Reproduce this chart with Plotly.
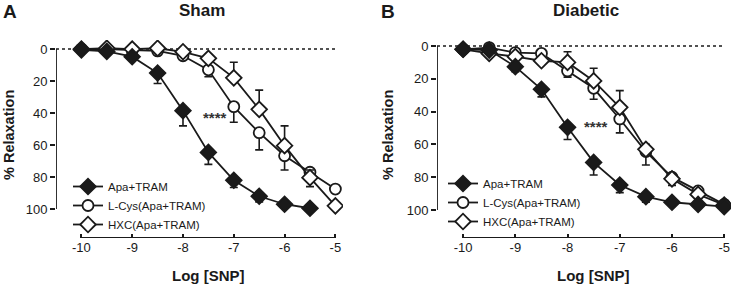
import plotly.graph_objects as go

W, H = 733, 287

log_snp = [-10, -9.5, -9, -8.5, -8, -7.5, -7, -6.5, -6, -5.5, -5]
series_names = ["Apa+TRAM", "L-Cys(Apa+TRAM)", "HXC(Apa+TRAM)"]

# Panel A: Sham
sham_apa = [0.5, 1.5, 4.8, 15, 38.5, 64.6, 82, 92, 97, 99.5, None]
sham_apa_err = [0, 0, 0, 6.5, 9.5, 7.5, 4.5, 3.5, 0, 0, 0]
sham_lcys = [0, 0, 0.7, 1.2, 4.2, 13, 36, 52.3, 66.7, 77, 87.5]
sham_lcys_err = [0, 0, 0, 0, 0, 4.3, 9.8, 10.7, 8.9, 9, 0]
sham_hxc = [0, -0.5, 0, -0.5, 1.7, 5.8, 18, 37.7, 60.4, 80.4, 98]
sham_hxc_err = [0, 0, 0, 0, 0, 0, 9.7, 12, 12.4, 4.8, 0]

# Panel B: Diabetic
diab_apa = [2, 2.5, 12.6, 26.4, 49.6, 71, 84.8, 91.9, 95.3, 96.6, 98]
diab_apa_err = [0, 0, 3.1, 4.6, 7.4, 7.7, 4.6, 3.4, 0, 0, 0]
diab_lcys = [2, 1, 4, 4.5, 15.2, 25.8, 44.5, 64.4, 80, 88.4, 96.6]
diab_lcys_err = [0, 0, 0, 0, 3.8, 6.7, 8.5, 8.2, 5, 0, 0]
diab_hxc = [2, 4.5, 6.5, 9, 10, 21.3, 37.4, 63, 81, 90.5, 97]
diab_hxc_err = [0, 0, 0, 0, 6.5, 7.7, 10.2, 3, 0, 0, 0]

y_ticks = [0, 20, 40, 60, 80, 100]
x_ticks = [-10, -9, -8, -7, -6, -5]

INK = "#1a1a1a"
FONT = "Liberation Sans, Arial, sans-serif"

fig = go.Figure()

styles = {
    "Apa+TRAM": dict(symbol="diamond", size=12, color=INK),
    "L-Cys(Apa+TRAM)": dict(symbol="circle", size=11, color="white"),
    "HXC(Apa+TRAM)": dict(symbol="diamond", size=12, color="white"),
}


def add(name, ys, errs, up, xa, ya, leg, rank, showleg=True):
    st = styles[name]
    if up:
        ey = dict(type="data", symmetric=False, array=[0] * len(errs), arrayminus=errs,
                  color=INK, thickness=1.6, width=4)
    else:
        ey = dict(type="data", symmetric=False, array=errs, arrayminus=[0] * len(errs),
                  color=INK, thickness=1.6, width=4)
    fig.add_trace(go.Scatter(
        x=log_snp, y=ys, name=name, mode="lines+markers",
        line=dict(color=INK, width=1.8),
        marker=dict(symbol=st["symbol"], size=st["size"], color=st["color"],
                    line=dict(color=INK, width=1.8)),
        error_y=ey, xaxis=xa, yaxis=ya, legend=leg, legendrank=rank,
        showlegend=showleg, connectgaps=False,
    ))


# Panel A
add("L-Cys(Apa+TRAM)", sham_lcys, sham_lcys_err, False, "x", "y", "legend", 2)
add("HXC(Apa+TRAM)", sham_hxc, sham_hxc_err, True, "x", "y", "legend", 3)
add("Apa+TRAM", sham_apa, sham_apa_err, False, "x", "y", "legend", 1)
# Panel B
add("L-Cys(Apa+TRAM)", diab_lcys, diab_lcys_err, False, "x2", "y2", "legend2", 2)
add("HXC(Apa+TRAM)", diab_hxc, diab_hxc_err, True, "x2", "y2", "legend2", 3)
add("Apa+TRAM", diab_apa, diab_apa_err, False, "x2", "y2", "legend2", 1)


def px_x(p):
    return p / W


def px_y(p):
    return (H - p) / H


# panel pixel geometry
A = dict(left=56, right=343, top=40, bottom=238, yr=[118.1, -5.65], xr=[-10.5, -4.85])
B = dict(left=437, right=731, top=40, bottom=238, yr=[117.1, -3.66], xr=[-10.5, -4.87])

axis_common = dict(showgrid=False, zeroline=False, showline=False,
                   tickfont=dict(family=FONT, size=13, color=INK),
                   tickcolor=INK, tickwidth=1.6)

for key, P, xa_ref, ya_ref in [("", A, "x", "y"), ("2", B, "x2", "y2")]:
    fig.update_layout(**{
        "xaxis" + key: dict(domain=[px_x(P["left"]), px_x(P["right"])], range=P["xr"],
                            tickvals=x_ticks, ticktext=[str(v) for v in x_ticks],
                            ticks="inside", ticklen=4, anchor=ya_ref, **axis_common),
        "yaxis" + key: dict(domain=[px_y(P["bottom"]), px_y(P["top"])], range=P["yr"],
                            tickvals=y_ticks, ticks="outside", ticklen=5,
                            anchor=xa_ref, **axis_common),
    })
    # axis lines (offset GraphPad style)
    fig.add_shape(type="line", xref=xa_ref, yref=ya_ref, x0=x_ticks[0], x1=x_ticks[-1],
                  y0=P["yr"][0], y1=P["yr"][0], line=dict(color=INK, width=1.8))
    fig.add_shape(type="line", xref=xa_ref, yref=ya_ref, x0=P["xr"][0], x1=P["xr"][0],
                  y0=y_ticks[0], y1=y_ticks[-1], line=dict(color=INK, width=1.8))
    # dotted zero line
    fig.add_shape(type="line", xref=xa_ref, yref=ya_ref, x0=P["xr"][0], x1=x_ticks[-1],
                  y0=0, y1=0, line=dict(color=INK, width=1.4, dash="dot"), layer="below")

ann = []


def text(x, y, s, size, bold=True, angle=0):
    ann.append(dict(xref="paper", yref="paper", x=px_x(x), y=px_y(y), text=("<b>%s</b>" % s) if bold else s,
                    showarrow=False, xanchor="center", yanchor="middle", textangle=angle,
                    font=dict(family=FONT, size=size, color=INK)))


text(10, 12, "A", 19)
text(202, 10, "Sham", 17)
text(388, 12, "B", 19)
text(586, 10, "Diabetic", 17)
text(208, 275, "Log [SNP]", 15)
text(593, 275, "Log [SNP]", 15)
text(9, 135, "% Relaxation", 14.5, angle=-90)
text(388, 135, "% Relaxation", 14.5, angle=-90)

# significance marks
ann.append(dict(xref="x", yref="y", x=-7.37, y=43, text="<b>****</b>", showarrow=False,
                font=dict(family=FONT, size=15, color="#333")))
ann.append(dict(xref="x2", yref="y2", x=-7.45, y=49, text="<b>****</b>", showarrow=False,
                font=dict(family=FONT, size=15, color="#333")))

leg_common = dict(font=dict(family=FONT, size=11.5, color=INK), bgcolor="rgba(0,0,0,0)",
                  xanchor="left", yanchor="top", tracegroupgap=0)

fig.update_layout(
    width=W, height=H, margin=dict(l=0, r=0, t=0, b=0),
    paper_bgcolor="white", plot_bgcolor="white",
    annotations=ann,
    legend=dict(x=px_x(68), y=px_y(172), **leg_common),
    legend2=dict(x=px_x(443), y=px_y(169), **leg_common),
)

fig.write_html("out.html", config={"displayModeBar": False},
               post_script="document.body.style.margin='0';document.body.style.overflow='hidden';")
